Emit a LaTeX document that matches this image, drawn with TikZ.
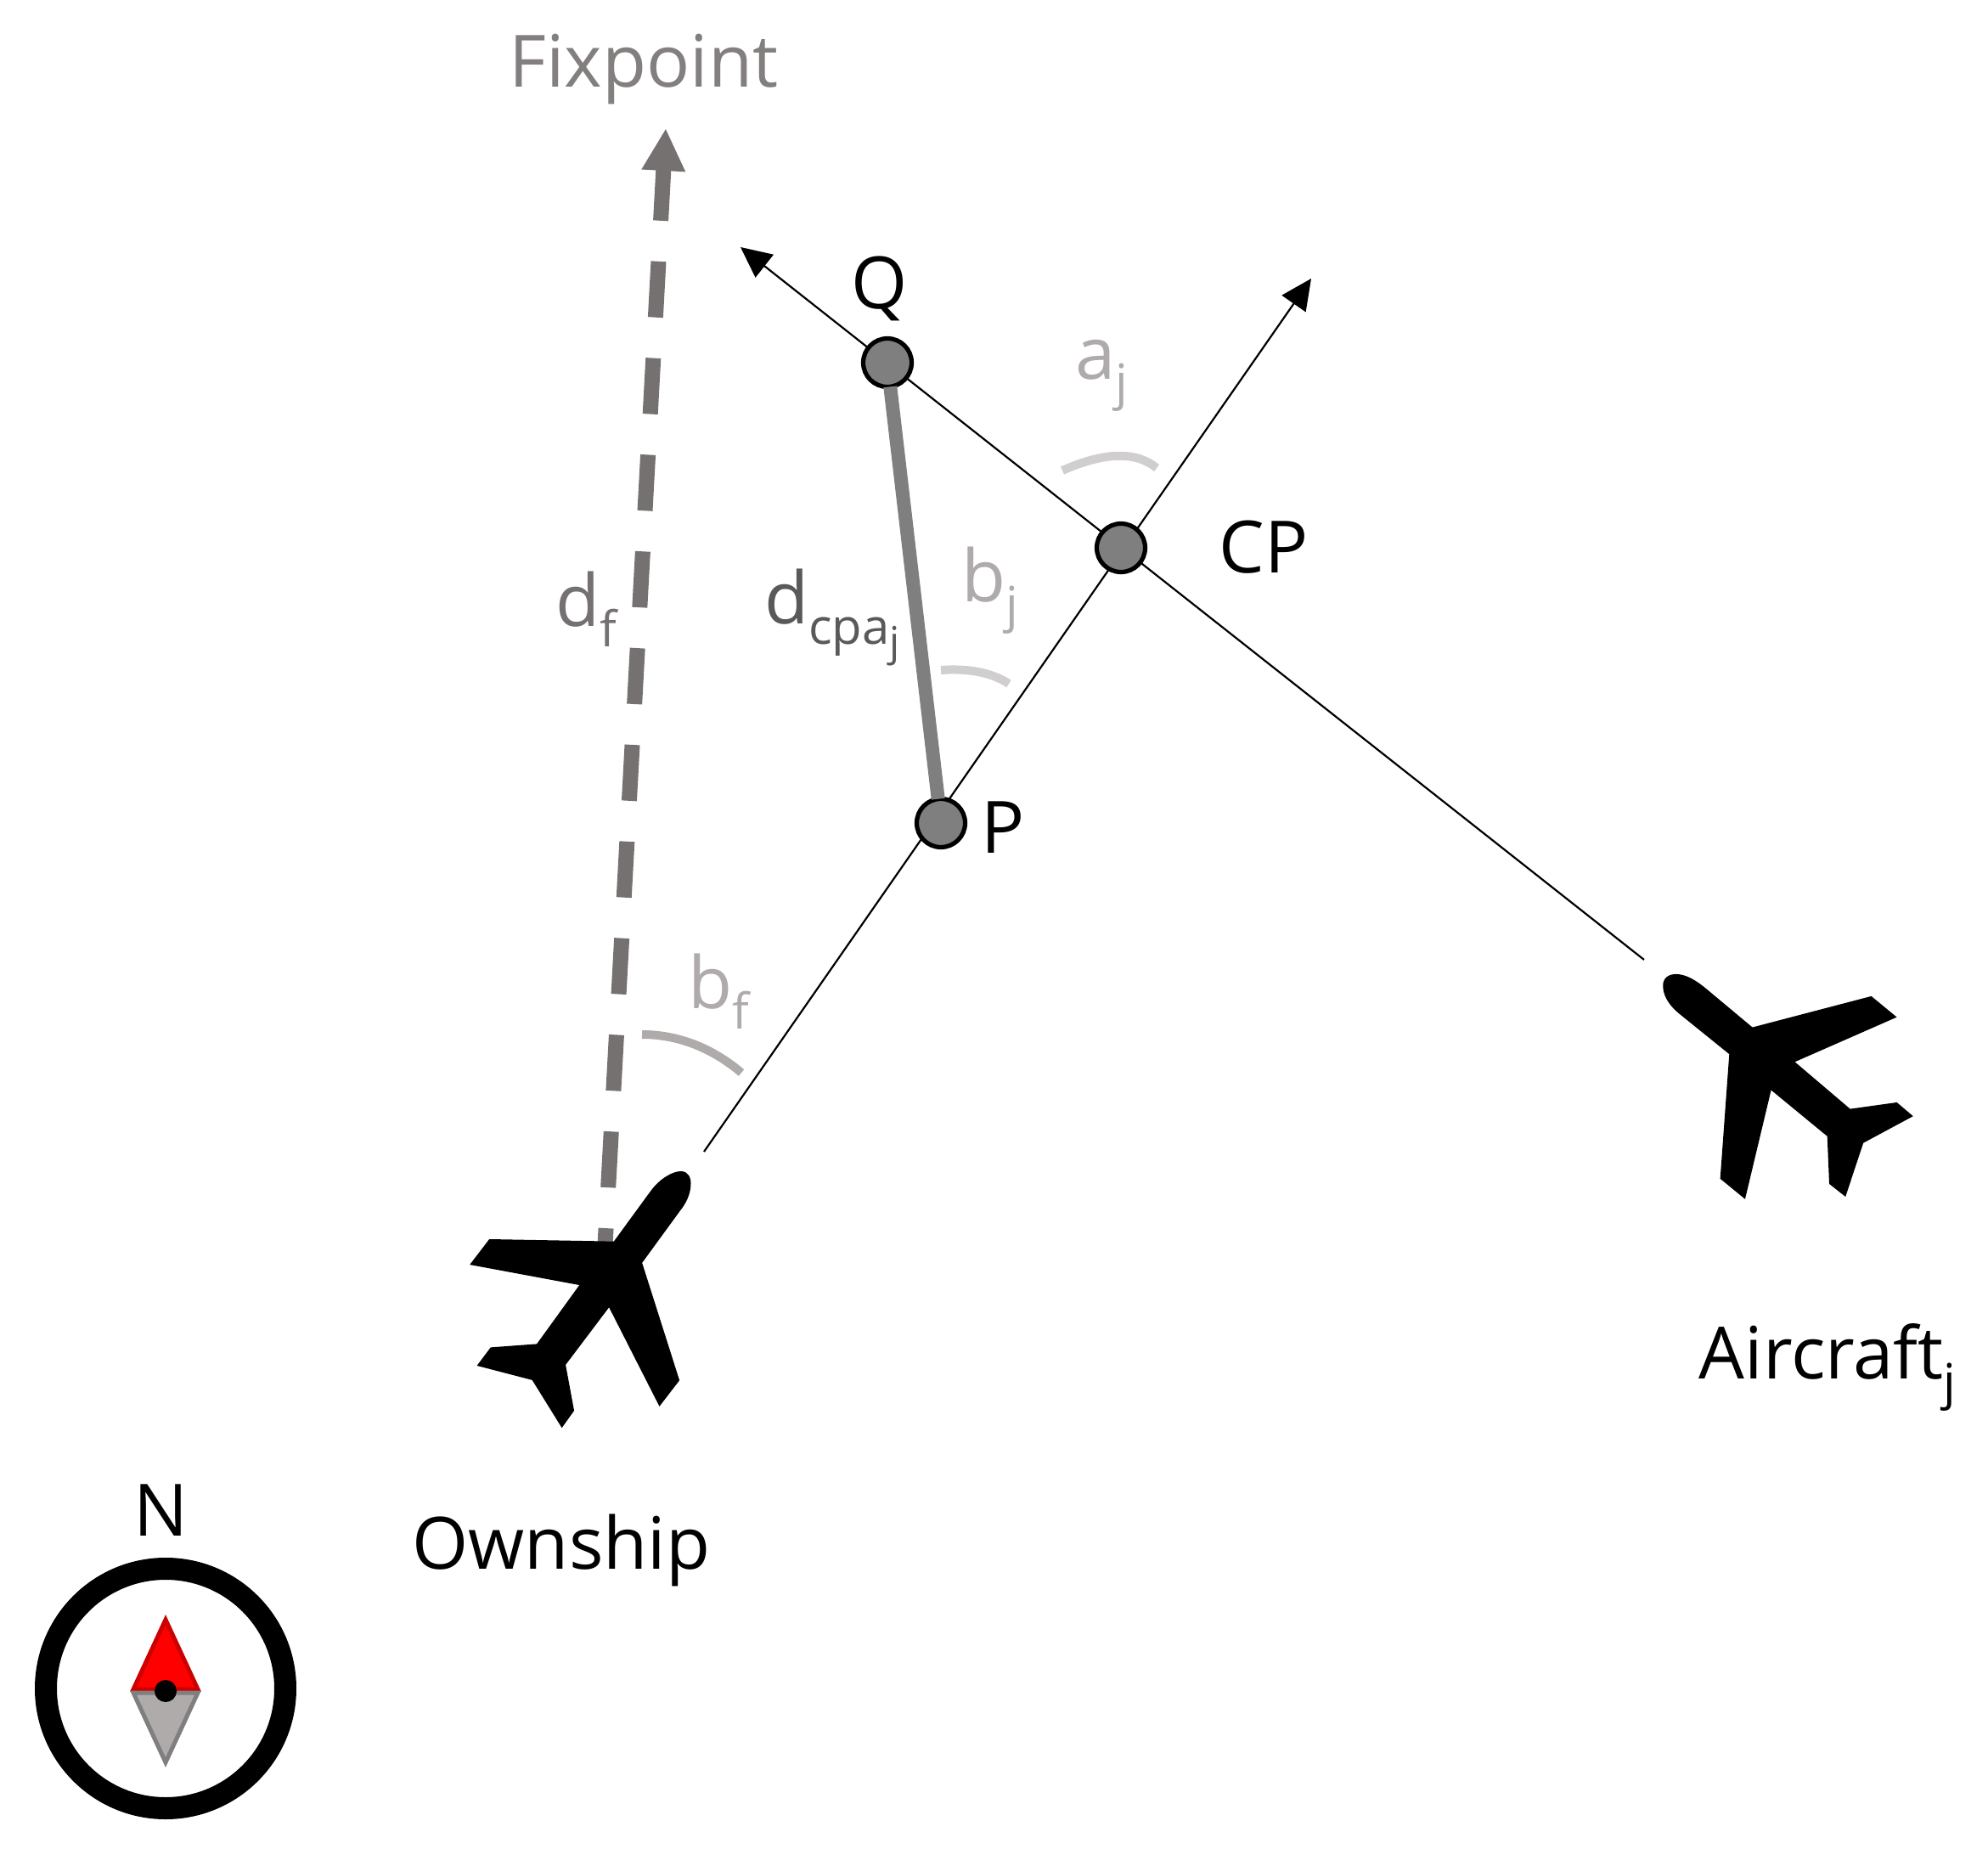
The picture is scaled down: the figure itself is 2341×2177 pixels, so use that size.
\documentclass[tikz,border=0pt]{standalone}
\usepackage{fontspec}
\setmainfont{Open Sans}
\usepackage{tikz}
\usetikzlibrary{arrows.meta,calc,positioning}
\definecolor{fixgray}{HTML}{767171}
\definecolor{anglegray}{HTML}{AFABAB}
\definecolor{arcgray}{HTML}{D0CECE}
\definecolor{dotgray}{HTML}{7F7F7F}
\definecolor{cpagray}{HTML}{595959}
\newcommand{\lowsub}[1]{\raisebox{-0.28em}{\fontsize{29}{34}\selectfont #1}}
\newcommand{\lowsubsub}[1]{\raisebox{-0.25em}{\fontsize{24}{28}\selectfont #1}}
\tikzstyle{track} =[line width=1.1pt, black]
\tikzstyle{trackhead}=[-{Triangle[length=18pt, width=17pt]}]
\tikzstyle{waypoint}=[circle, draw=black, fill=dotgray, minimum size=28.5pt,
                    line width=2.6pt, inner sep=0pt, outer sep=0pt]
\tikzstyle{label} =[font=\fontsize{42.5}{51}\selectfont, inner sep=0pt, text=black]
\tikzstyle{anglelabel}=[label, text=anglegray]
\tikzstyle{anglearc}=[line width=5pt, arcgray]
\tikzstyle{plane}=[fill=black, draw=black, line width=1pt]
\begin{document}
\begin{tikzpicture}[x=0.5pt, y=-0.5pt]
    \useasboundingbox (0,0) rectangle (2341,2177);
    \coordinate (fixstart) at (710,1512);
    \coordinate (fixtip) at (784,151);
    \coordinate (ownstart) at (829,1356);
    \coordinate (ownend) at (1544,328);
    \coordinate (acstart) at (1936,1130);
    \coordinate (acend) at (872,291);

    % tracks
    \draw[fixgray, line width=9pt, dash pattern=on 33pt off 24pt,
          -{Triangle[length=25pt, width=24pt]}] (fixstart) -- (fixtip);
    \draw[track, trackhead] (ownstart) -- (ownend);
    \draw[track, trackhead] (acstart) -- (acend);

    \node[waypoint] (q) at (1045,427) {};
    \node[waypoint] (cp) at (1320,645) {};
    \node[waypoint] (p) at (1108,969) {};
    \draw[dotgray, line width=8pt] (q) -- (p);

    % angle arcs
    \draw[anglearc] (1251,554) .. controls (1305,530) and (1340,533) .. (1362,551);
    \draw[anglearc] (1108,789) .. controls (1135,787) and (1165,790) .. (1188,805);
    \draw[anglearc, anglegray] (756,1218) .. controls (800,1218) and (840,1235) .. (873,1263);

    % ownship
    \begin{scope}[shift={(500,1300)}, x=0.16667pt, y=-0.16667pt]
        \path[plane] (670,488) -- (800,310) .. controls (835,262) and (880,240) .. (905,240)
            .. controls (930,240) and (940,262) .. (937,290)
            .. controls (935,320) and (920,350) .. (900,375)
            -- (765,560) -- (897,975) -- (830,1062) -- (652,712) -- (495,920) -- (525,1082)
            -- (485,1138) -- (382,972) -- (190,922) -- (235,862) -- (398,850) -- (552,637)
            -- (165,565) -- (230,480) -- cycle;
    \end{scope}
    % aircraft j
    \begin{scope}[shift={(1920,1100)}, x=0.16667pt, y=-0.16667pt]
        \path[plane] (430,332) -- (850,222) -- (935,292) -- (575,450) -- (775,620) -- (940,597)
            -- (993,642) -- (820,735) -- (758,922) -- (705,880) -- (698,712) -- (495,545)
            -- (403,930) -- (320,862) -- (352,422) -- (170,275)
            .. controls (135,245) and (115,210) .. (118,175)
            .. controls (122,150) and (145,140) .. (175,145)
            .. controls (205,150) and (235,170) .. (260,190) -- cycle;
    \end{scope}

    % compass
    \node[circle, draw=black, line width=13pt, minimum size=141pt, inner sep=0pt] (compass) at (195,1988) {};
    \draw[fill=red, draw=red!80!black, line width=2.5pt] (195,1907) -- (157,1989) -- (233,1989) -- cycle;
    \draw[fill=anglegray, draw=dotgray, line width=2.5pt] (157,1993) -- (233,1993) -- (195,2075) -- cycle;
    \node[circle, fill=black, minimum size=13pt, inner sep=0pt] (pivot) at (195,1991) {};

    % labels
    \node[label, text=fixgray!90] (fixpoint) at (758,82) {Fixpoint};
    \node[label] (qlabel) at (1036,340) {Q};
    \node[label] (cplabel) at (1488,644) {CP};
    \node[label] (plabel) at (1181,974) {P};
    \node[anglelabel] (ajlabel) at (1297,442) {a\lowsub{j}};
    \node[anglelabel] (bjlabel) at (1166,695) {b\lowsub{j}};
    \node[label, text=cpagray] (dcpalabel) at (980,727) {d\lowsub{cpa\lowsubsub{j}}};
    \node[label, text=fixgray] (dflabel) at (690,717) {d\lowsub{f}};
    \node[anglelabel] (bflabel) at (846,1167) {b\lowsub{f}};
    \node[label] (nlabel) at (190,1778) {N};
    \node[label] (ownlabel) at (661,1825) {Ownship};
    \node[label] (aclabel) at (2152,1610) {Aircraft\lowsub{j}};
\end{tikzpicture}
\end{document}
